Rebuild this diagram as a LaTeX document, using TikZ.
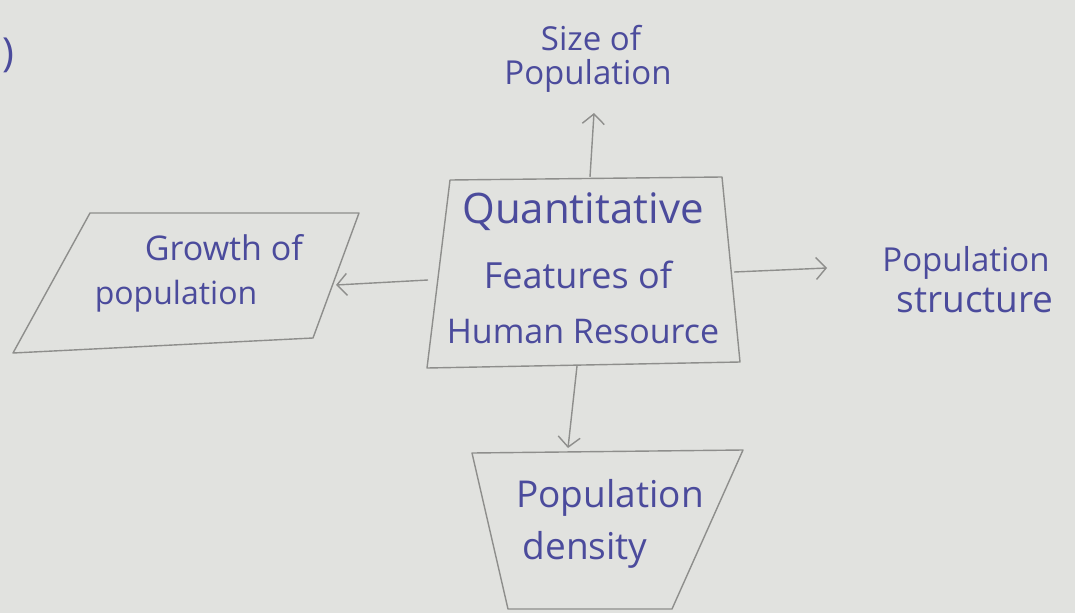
\documentclass[tikz,border=0pt]{standalone}
\usepackage{fontspec}
\setmainfont{Open Sans}
\usetikzlibrary{arrows.meta}
\definecolor{paper}{HTML}{E1E2DF}
\definecolor{pencil}{HTML}{8E8E8C}
\definecolor{ink}{HTML}{4B4B9C}
\begin{document}
\begin{tikzpicture}[x=1pt,y=-1pt,
  outline/.style={draw=pencil, line width=1.4pt, line join=round},
  conn/.style={draw=pencil, line width=1.4pt, -{Straight Barb[length=10pt,width=22pt]}},
  lbl/.style={text=ink, inner sep=0pt, anchor=center},
  fs/.style={font=\fontsize{#1}{#1}\selectfont}]
\fill[paper] (0,0) rectangle (1075,613);
\useasboundingbox (0,0) rectangle (1075,613);

% stray bracket
\node[lbl, fs=40] (brk) at (8,55) {)};

% central box
\coordinate (c1) at (450,180);
\coordinate (c2) at (722,177);
\coordinate (c3) at (740,362);
\coordinate (c4) at (427,368);
\draw[outline] (c1) -- (c2) -- (c3) -- (c4) -- cycle;
\node[lbl, fs=42] (q1) at (583,212) {Quantitative};
\node[lbl, fs=36] (q2) at (578,275) {Features of};
\node[lbl, fs=34] (q3) at (583,332) {Human Resource};

% left parallelogram
\coordinate (p1) at (90,213);
\coordinate (p2) at (359,213);
\coordinate (p3) at (313,338);
\coordinate (p4) at (13,353);
\draw[outline] (p1) -- (p2) -- (p3) -- (p4) -- cycle;
\node[lbl, fs=34] (g1) at (224,248) {Growth of};
\node[lbl, fs=32] (g2) at (176,296) {population};

% bottom trapezoid
\coordinate (t1) at (472,453);
\coordinate (t2) at (743,450);
\coordinate (t3) at (672,609);
\coordinate (t4) at (508,609);
\draw[outline] (t1) -- (t2) -- (t3) -- (t4) -- cycle;
\node[lbl, fs=37] (d1) at (610,498) {Population};
\node[lbl, fs=37] (d2) at (585,550) {density};

% free labels
\node[lbl, fs=33] (s1) at (591,38) {Size of};
\node[lbl, fs=33] (s2) at (588,76) {Population};
\node[lbl, fs=33] (r1) at (966,263) {Population};
\node[lbl, fs=37] (r2) at (975,300) {structure};

% connector ends
\coordinate (upS) at (590,177);
\coordinate (upE) at (594,113);
\coordinate (lfS) at (428,280);
\coordinate (lfE) at (336,285);
\coordinate (rtS) at (734,272);
\coordinate (rtE) at (827,268);
\coordinate (dnS) at (577,366);
\coordinate (dnE) at (568,448);

\draw[conn] (upS) -- (upE);
\draw[conn] (lfS) -- (lfE);
\draw[conn] (rtS) -- (rtE);
\draw[conn] (dnS) -- (dnE);
\end{tikzpicture}
\end{document}
